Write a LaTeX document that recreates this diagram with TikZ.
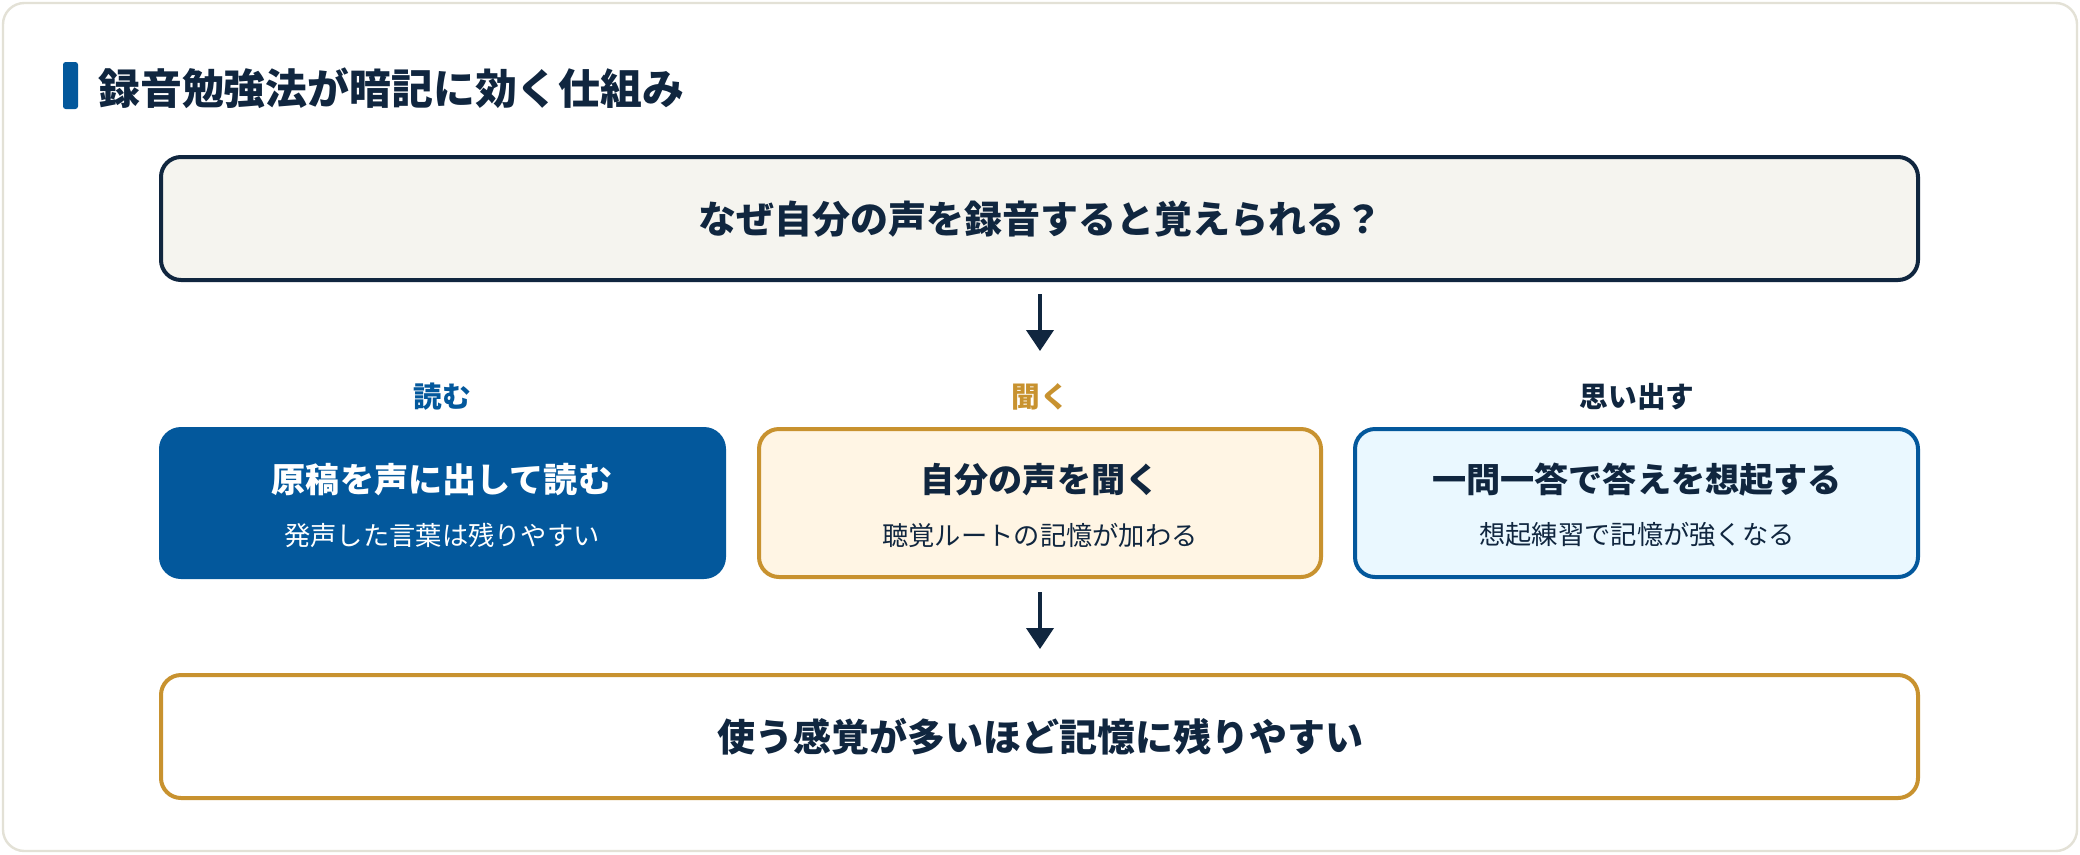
\documentclass[tikz,border=0pt]{standalone}
\usepackage{fontspec}
\setmainfont{Noto Sans CJK JP}
\usetikzlibrary{arrows.meta}
\definecolor{navy}{HTML}{10263F}
\definecolor{blueF}{HTML}{03589C}
\definecolor{gold}{HTML}{C8922F}
\definecolor{cream}{HTML}{FFF5E4}
\definecolor{lblue}{HTML}{EAF8FF}
\definecolor{topfill}{HTML}{F5F4EF}
\definecolor{framec}{HTML}{E3E1D6}
\tikzset{
  px/.style={x=0.75pt,y=-0.75pt},
  boxstyle/.style={rounded corners=15pt,line width=3pt},
  flowarrow/.style={draw=navy,line width=2.3pt,-{Triangle[length=15.75pt,width=20.5pt]}},
  lbl/.style={font=\fontsize{21.5pt}{25pt}\selectfont\bfseries,anchor=center,inner sep=0pt},
  btitle/.style={font=\fontsize{25.6pt}{30pt}\selectfont\bfseries,anchor=center,inner sep=0pt},
  bsub/.style={font=\fontsize{19.7pt}{23pt}\selectfont,anchor=center,inner sep=0pt},
  bigtext/.style={font=\fontsize{28.5pt}{33pt}\selectfont\bfseries,text=navy,anchor=center,inner sep=0pt},
}
\begin{document}
\begin{tikzpicture}[px]
\useasboundingbox (0,0) rectangle (2080,854);
\fill[fill=white] (0,0) rectangle (2080,854);
\draw[draw=framec,line width=1.8pt,fill=white,rounded corners=16pt] (3,3) rectangle (2077,851);
% title
\fill[blueF,rounded corners=2pt] (63,62) rectangle (78,109);
\node[font=\fontsize{31.4pt}{36pt}\selectfont\bfseries,text=navy,anchor=west,inner sep=0pt] (title) at (98,88) {録音勉強法が暗記に効く仕組み};
% top box
\draw[boxstyle,draw=navy,fill=topfill] (161,157) rectangle (1918,280);
\node[bigtext] (top) at (1040,219) {なぜ自分の声を録音すると覚えられる？};
\coordinate (a1s) at (1040,294);
\coordinate (a1e) at (1040,351);
\draw[flowarrow] (a1s) -- (a1e);
% labels
\node[lbl,text=blueF] (l1) at (442,397) {読む};
\node[lbl,text=gold] (l2) at (1040,397) {聞く};
\node[lbl,text=navy] (l3) at (1637,397) {思い出す};
% three boxes
\draw[boxstyle,draw=blueF,fill=blueF] (161,429) rectangle (724,577);
\node[btitle,text=white] (b1t) at (442,480) {原稿を声に出して読む};
\node[bsub,text=white] (b1s) at (442,535) {発声した言葉は残りやすい};
\draw[boxstyle,draw=gold,fill=cream] (759,429) rectangle (1321,577);
\node[btitle,text=navy] (b2t) at (1040,480) {自分の声を聞く};
\node[bsub,text=navy] (b2s) at (1040,535) {聴覚ルートの記憶が加わる};
\draw[boxstyle,draw=blueF,fill=lblue] (1355,429) rectangle (1918,577);
\node[btitle,text=navy] (b3t) at (1637,480) {一問一答で答えを想起する};
\node[bsub,text=navy] (b3s) at (1637,535) {想起練習で記憶が強くなる};
\coordinate (a2s) at (1040,592);
\coordinate (a2e) at (1040,649);
\draw[flowarrow] (a2s) -- (a2e);
% bottom box
\draw[boxstyle,draw=gold,fill=white] (161,675) rectangle (1918,798);
\node[bigtext] (bottom) at (1040,737) {使う感覚が多いほど記憶に残りやすい};
\end{tikzpicture}
\end{document}
